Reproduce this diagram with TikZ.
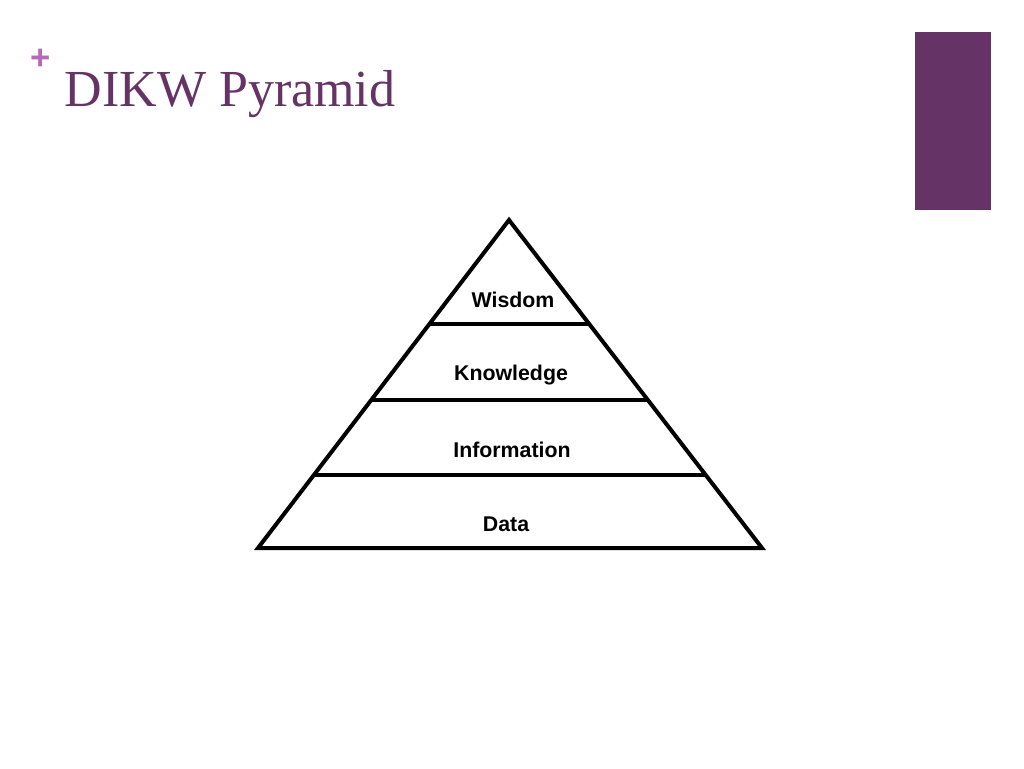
\documentclass[tikz,border=0pt]{standalone}
\usepackage{fontspec}
\setmainfont{Liberation Serif}
\newfontfamily\labelfont{Liberation Sans}
\usetikzlibrary{calc}
\definecolor{plum}{HTML}{663366}
\definecolor{plus}{HTML}{B868B8}

\begin{document}
\begin{tikzpicture}[x=0.75pt,y=-0.75pt]
\tikzstyle{edge}=[line width=3pt,line join=miter]
\tikzstyle{level}=[font=\labelfont\bfseries\fontsize{16}{16}\selectfont]
\useasboundingbox (0,0) rectangle (1024,768);
\fill[plum] (915,32) rectangle (991,210);
\node[text=plus,font=\labelfont\bfseries\fontsize{26}{26}\selectfont] (plus) at (41,59) {+};
\node[anchor=west,text=plum,font=\fontsize{39}{39}\selectfont] (title) at (60,94) {DIKW Pyramid};
% pyramid
\coordinate (T) at (509,220);
\coordinate (L) at (258,548);
\coordinate (R) at (762,548);
\draw[edge] (T) -- (L) -- (R) -- cycle;
\foreach \t in {0.317,0.549,0.777}
  \draw[edge] ($(T)!\t!(L)$) -- ($(T)!\t!(R)$);
\node[level] (wisdom) at (513,300) {Wisdom};
\node[level] (knowledge) at (511,375) {Knowledge};
\node[level] (information) at (512,450) {Information};
\node[level] (data) at (506,524) {Data};
\end{tikzpicture}
\end{document}
